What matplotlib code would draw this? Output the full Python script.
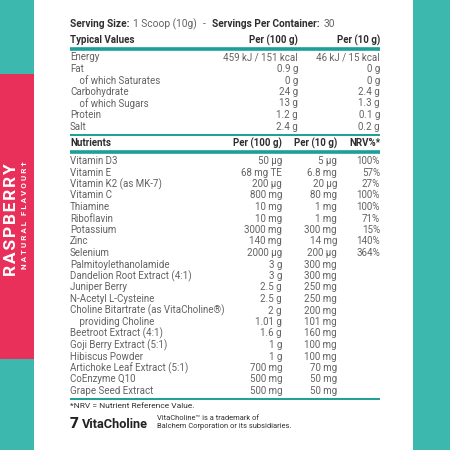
import matplotlib
matplotlib.use('Agg')
import matplotlib.pyplot as plt
from matplotlib.patches import Rectangle

# colours
teal = '#3db8ae'
red = '#e8305a'
rule = '#1c9f97'
grey = '#626262'
dark = '#2e2e2e'

serving_size = '1 Scoop (10g)'
servings = '30'

typical_cols = ['Typical Values', 'Per (100 g)', 'Per (10 g)']
typical_names = ['Energy', 'Fat', '    of which Saturates', 'Carbohydrate',
                 '    of which Sugars', 'Protein', 'Salt']
typical_100 = ['459 kJ / 151 kcal', '0.9 g', '0 g', '24 g', '13 g',
               '1.2 g', '2.4 g']
typical_10 = ['46 kJ / 15 kcal', '0 g', '0 g', '2.4 g', '1.3 g',
              '0.1 g', '0.2 g']

nutr_cols = ['Nutrients', 'Per (100 g)', 'Per (10 g)', 'NRV%*']
nutr_names = ['Vitamin D3', 'Vitamin E', 'Vitamin K2 (as MK-7)', 'Vitamin C',
              'Thiamine', 'Riboflavin', 'Potassium', 'Zinc', 'Selenium',
              'Palmitoylethanolamide', 'Dandelion Root Extract (4:1)',
              'Juniper Berry', 'N-Acetyl L-Cysteine',
              'Choline Bitartrate (as VitaCholine\u00ae)',
              '    providing Choline', 'Beetroot Extract (4:1)',
              'Goji Berry Extract (5:1)', 'Hibiscus Powder',
              'Artichoke Leaf Extract (5:1)', 'CoEnzyme Q10',
              'Grape Seed Extract']
nutr_100 = ['50 \u00b5g', '68 mg TE', '200 \u00b5g', '800 mg', '10 mg',
            '10 mg', '3000 mg', '140 mg', '2000 \u00b5g', '3 g', '3 g',
            '2.5 g', '2.5 g', '2 g', '1.01 g', '1.6 g', '1 g', '1 g',
            '700 mg', '500 mg', '500 mg']
nutr_10 = ['5 \u00b5g', '6.8 mg', '20 \u00b5g', '80 mg', '1 mg', '1 mg',
           '300 mg', '14 mg', '200 \u00b5g', '300 mg', '300 mg', '250 mg',
           '250 mg', '200 mg', '101 mg', '160 mg', '100 mg', '100 mg',
           '70 mg', '50 mg', '50 mg']
nutr_nrv = ['100%', '57%', '27%', '100%', '100%', '71%', '15%', '140%',
            '364%']

plt.rcParams['font.family'] = ['Roboto', 'DejaVu Sans']

fig = plt.figure(figsize=(4.5, 4.5), dpi=100)
ax = fig.add_axes([0, 0, 1, 1])
ax.set_xlim(0, 450)
ax.set_ylim(450, 0)
ax.axis('off')

# side strips
ax.add_patch(Rectangle((0, 0), 34, 450, color=teal, lw=0))
ax.add_patch(Rectangle((0, 74), 34, 285, color=red, lw=0))
ax.add_patch(Rectangle((413, 0), 37, 450, color=teal, lw=0))
ax.text(11.5, 220, '\u200a'.join('RASPBERRY'), rotation=90, color='white',
        fontsize=12.5, fontweight='bold', ha='center', va='center')
ax.text(24.5, 215, 'N A T U R A L   F L A V O U R \u2020', rotation=90,
        color='white', fontsize=5.8, fontweight='bold', ha='center',
        va='center')

fs = 7
x0 = 70
xr = 380


def chain(prev, s, gap, **kw):
    # place text right after the previous one
    return ax.annotate(s, xy=(1, 0.5), xycoords=prev, xytext=(gap, 0),
                       textcoords='offset points', va='center', ha='left',
                       fontsize=7.3, **kw)


# serving line
t = ax.text(x0, 24, 'Serving Size:', fontsize=7.3, fontweight='bold',
            color=dark, va='center')
t = chain(t, serving_size, 2.5, color=grey)
t = chain(t, '-', 4.5, color=grey)
t = chain(t, 'Servings Per Container:', 4.5, fontweight='bold', color=dark)
t = chain(t, servings, 2.5, color=grey)

# typical values table
y = 40
ax.text(x0, y, typical_cols[0], fontsize=fs, fontweight='bold', color=dark,
        va='center')
ax.text(298, y, typical_cols[1], fontsize=fs, fontweight='bold', color=dark,
        va='center', ha='right')
ax.text(xr, y, typical_cols[2], fontsize=fs, fontweight='bold', color=dark,
        va='center', ha='right')
ax.plot([x0, xr], [48.5, 48.5], color=rule, lw=2.6, solid_capstyle='butt')
dy = 11.5
for i, name in enumerate(typical_names):
    yy = 57.5 + i * dy
    ax.text(x0, yy, name, fontsize=fs, color=grey, va='center')
    ax.text(298, yy, typical_100[i], fontsize=fs, color=grey, va='center',
            ha='right')
    ax.text(xr, yy, typical_10[i], fontsize=fs, color=grey, va='center',
            ha='right')
ax.plot([x0, xr], [134.5, 134.5], color=rule, lw=1.4, solid_capstyle='butt')

# nutrients table
y = 143
ax.text(x0, y, nutr_cols[0], fontsize=fs, fontweight='bold', color=dark,
        va='center')
ax.text(282, y, nutr_cols[1], fontsize=fs, fontweight='bold', color=dark,
        va='center', ha='right')
ax.text(337, y, nutr_cols[2], fontsize=fs, fontweight='bold', color=dark,
        va='center', ha='right')
ax.text(xr, y, nutr_cols[3], fontsize=fs, fontweight='bold', color=dark,
        va='center', ha='right')
ax.plot([x0, xr], [151.5, 151.5], color=rule, lw=2.6, solid_capstyle='butt')
for i, name in enumerate(nutr_names):
    yy = 161 + i * dy
    ax.text(x0, yy, name, fontsize=fs, color=grey, va='center')
    ax.text(282, yy, nutr_100[i], fontsize=fs, color=grey, va='center',
            ha='right')
    ax.text(337, yy, nutr_10[i], fontsize=fs, color=grey, va='center',
            ha='right')
    if i < len(nutr_nrv):
        ax.text(xr, yy, nutr_nrv[i], fontsize=fs, color=grey, va='center',
                ha='right')
ax.plot([x0, xr], [399, 399], color=rule, lw=1.4, solid_capstyle='butt')

# footnotes
ax.text(x0, 406, '*NRV = Nutrient Reference Value.', fontsize=6,
        color=dark, va='center')
ax.text(x0, 424, '7', fontsize=11, fontweight='heavy', color='#222222',
        va='center')
ax.text(x0 + 12, 424.5, 'VitaCholine', fontsize=9.2, fontweight='bold',
        color='#222222', va='center')
ax.text(x0 + 87, 419, 'VitaCholine\u2122 is a trademark of', fontsize=5.4,
        color=dark, va='center')
ax.text(x0 + 87, 427, 'Balchem Corporation or its subsidiaries.',
        fontsize=5.4, color=dark, va='center')

fig.savefig('out.png', dpi=100)
